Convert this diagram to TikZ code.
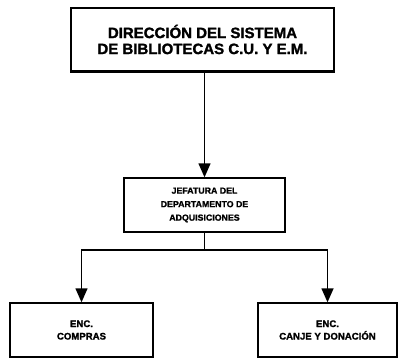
\documentclass[tikz,border=0pt]{standalone}
\usepackage{fontspec}
\setmainfont{Liberation Sans}[BoldFeatures={FakeBold=1.5}]
\usetikzlibrary{arrows.meta}
\begin{document}
\begin{tikzpicture}[x=1pt,y=-1pt,
  box/.style={draw=black,line width=1.4pt,fill=white,inner sep=0pt,align=center},
  conn/.style={draw=black,line width=1.4pt},
  arr/.style={conn,-{Triangle[width=12pt,length=14pt]}}]
\useasboundingbox (0,0) rectangle (398,359);
\node[box,minimum width=263pt,minimum height=63pt,font=\bfseries\fontsize{15}{16}\selectfont] (top) at (202.5,39.5) {DIRECCIÓN DEL SISTEMA\\DE BIBLIOTECAS C.U. Y E.M.};
\draw[line width=3.5pt] (top.south west) -- (top.south east);
\node[box,minimum width=161pt,minimum height=54pt,font=\bfseries\fontsize{8.8}{13.5}\selectfont] (mid) at (204.5,205) {JEFATURA DEL\\DEPARTAMENTO DE\\ADQUISICIONES};
\node[box,minimum width=143pt,minimum height=54pt,font=\bfseries\fontsize{9.6}{12.5}\selectfont] (l) at (81.5,330) {ENC.\\COMPRAS};
\node[box,minimum width=139pt,minimum height=54pt,font=\bfseries\fontsize{9.6}{12.5}\selectfont] (r) at (327.5,330) {ENC.\\CANJE Y DONACIÓN};
\draw[arr] (top.south -| mid.north) -- (mid.north);
\coordinate (j) at (204.5,250);
\draw[conn] (mid.south) -- (j);
\draw[arr] (j) -| (l.north);
\draw[arr] (j) -| (r.north);
\end{tikzpicture}
\end{document}
